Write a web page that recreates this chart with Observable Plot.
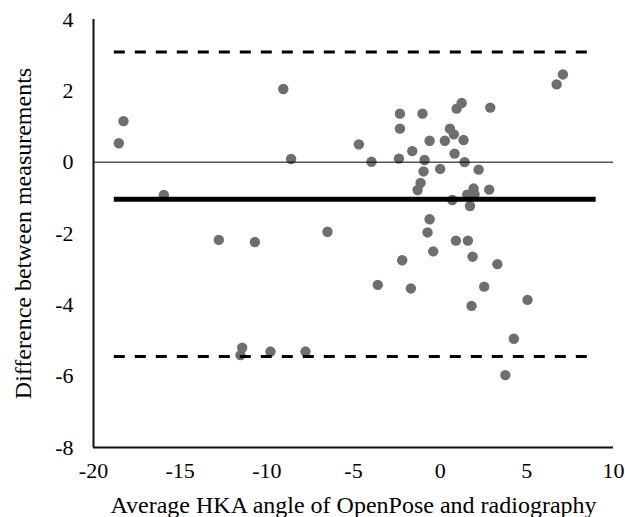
<!DOCTYPE html>
<html>
<head>
<meta charset="utf-8">
<script src="https://cdn.jsdelivr.net/npm/d3@7"></script>
<script src="https://cdn.jsdelivr.net/npm/@observablehq/plot@0.6"></script>
<style>
  html, body { margin: 0; padding: 0; background: #fff; }
  #chart svg { display: block; }
</style>
</head>
<body>
<div id="chart"></div>
<script>
// Average of the two measurements (x) and their difference (y)
const avgHKA = [
  -18.27, -18.54, -15.94, -9.05, -8.6, -12.77, -10.69, -6.5, -11.42, -11.52,
  -9.79, -7.77, -4.69, -3.96, -2.32, -2.32, -2.38, -1.61, -1.02, -0.61,
  -0.9, -0.96, -1.13, -1.30, 0.0, 0.27, 0.56, 0.79, 1.35, 0.83,
  0.95, 1.24, 2.89, 1.41, 2.22, 2.83, 1.93, 1.56, 1.98, 0.70,
  1.72, -0.61, -0.73, 0.91, 1.60, -0.40, -2.19, 1.87, 3.30, 6.72,
  7.08, -3.6, -1.69, 2.54, 1.81, 5.04, 4.25, 3.76
];
const diffMeas = [
  1.15, 0.53, -0.92, 2.05, 0.09, -2.18, -2.24, -1.95, -5.2, -5.41,
  -5.31, -5.31, 0.50, 0.01, 1.36, 0.94, 0.10, 0.31, 1.36, 0.60,
  0.06, -0.26, -0.58, -0.78, -0.19, 0.60, 0.94, 0.78, 0.62, 0.24,
  1.50, 1.66, 1.53, 0.0, -0.21, -0.77, -0.74, -0.91, -0.90, -1.06,
  -1.23, -1.60, -1.97, -2.20, -2.20, -2.50, -2.75, -2.65, -2.86, 2.18,
  2.46, -3.44, -3.54, -3.49, -4.03, -3.86, -4.95, -5.97
];
// Bland-Altman reference lines
const meanDiff = -1.04;
const upperLoA = 3.09;
const lowerLoA = -5.45;
const lineStart = -18.8;
const lineEnd = 9.0;

const xTicks = [-20, -15, -10, -5, 0, 5, 10];
const yTicks = [-8, -6, -4, -2, 0, 2, 4];

const points = avgHKA.map((x, i) => ({x, y: diffMeas[i]}));
const loa = [upperLoA, lowerLoA];

const chart = Plot.plot({
  width: 625,
  height: 517,
  marginLeft: 93,
  marginRight: 12,
  marginTop: 19,
  marginBottom: 70,
  style: {fontFamily: "'Liberation Serif', 'Times New Roman', serif", fontSize: "22px", color: "#000"},
  x: {domain: [-20, 10]},
  y: {domain: [-8, 4]},
  marks: [
    Plot.axisX({
      ticks: xTicks, tickSize: 0, tickPadding: 15, tickFormat: d => String(d),
      fontSize: 22, label: null
    }),
    Plot.axisX({
      ticks: [], tickSize: 0,
      label: "Average HKA angle of OpenPose and radiography", labelAnchor: "center", labelArrow: "none", labelOffset: 65,
      fontSize: 24
    }),
    Plot.axisY({
      ticks: yTicks, tickSize: 0, tickPadding: 20, tickFormat: d => String(d),
      fontSize: 22, label: null
    }),
    Plot.axisY({
      ticks: [], tickSize: 0,
      label: "Difference between measurements", labelAnchor: "center", labelArrow: "none", labelOffset: 80,
      fontSize: 24
    }),
    Plot.dot(points, {x: "x", y: "y", r: 5.2, fill: "#6e6e6e", stroke: "none"}),
    Plot.ruleY([0], {x1: -20, x2: 10, stroke: "#000", strokeWidth: 1}),
    Plot.ruleY([meanDiff], {x1: lineStart, x2: lineEnd, stroke: "#000", strokeWidth: 5}),
    Plot.ruleY(loa, {x1: lineStart, x2: lineEnd, stroke: "#000", strokeWidth: 3, strokeDasharray: "11,10"}),
    Plot.ruleX([-20], {y1: -8, y2: 4, stroke: "#111", strokeWidth: 2}),
    Plot.ruleY([-8], {x1: -20, x2: 10, stroke: "#111", strokeWidth: 2})
  ]
});
document.getElementById("chart").appendChild(chart);
</script>
</body>
</html>
